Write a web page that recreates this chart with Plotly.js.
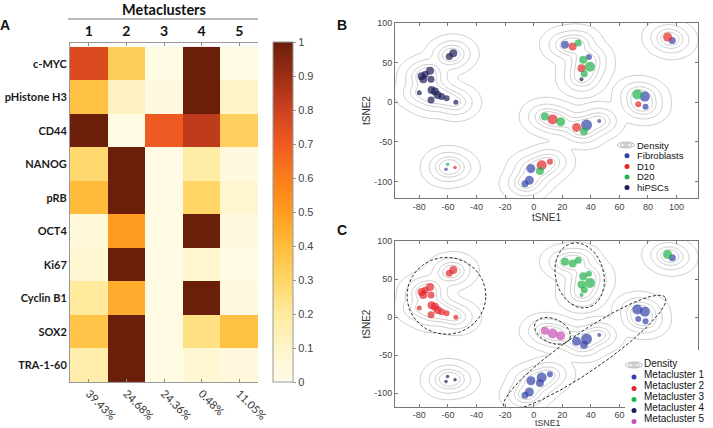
<!DOCTYPE html>
<html><head><meta charset="utf-8">
<script src="https://cdn.plot.ly/plotly-3.0.1.min.js"></script>
<style>html,body{margin:0;padding:0;background:#fff}#chart{width:713px;height:428px}</style>
</head><body><div id="chart"></div>
<script>
// ---------- Panel A data ----------
const markers = ['c-MYC','pHistone H3','CD44','NANOG','pRB','OCT4','Ki67','Cyclin B1','SOX2','TRA-1-60'];
const metaclusters = ['1','2','3','4','5'];
const clusterShares = ['39.43%','24.68%','24.36%','0.48%','11.05%'];
const expression = [
  [0.76, 0.33, 0.02, 1.00, 0.02],
  [0.38, 0.12, 0.03, 1.00, 0.10],
  [1.00, 0.02, 0.70, 0.83, 0.32],
  [0.28, 1.00, 0.02, 0.18, 0.03],
  [0.40, 1.00, 0.02, 0.30, 0.08],
  [0.05, 0.50, 0.02, 1.00, 0.03],
  [0.07, 1.00, 0.02, 0.08, 0.02],
  [0.20, 0.45, 0.02, 1.00, 0.03],
  [0.37, 1.00, 0.02, 0.25, 0.38],
  [0.17, 1.00, 0.02, 0.07, 0.04]
];
const colorbarTicks = [0,0.1,0.2,0.3,0.4,0.5,0.6,0.7,0.8,0.9,1];
const colorbarLabels = ['0','0.1','0.2','0.3','0.4','0.5','0.6','0.7','0.8','0.9','1'];

// ---------- Panels B/C data (tSNE) ----------
const tsne1 = [-59.0,-56.2,-72.5,-75.8,-78.4,-77.2,-71.8,-80.0,-71.4,-69.0,-67.2,-64.4,-60.9,-71.8,-54.4,
  21.9,27.3,31.2,38.7,34.7,33.5,39.4,35.4,33.5,
  93.7,97.0,
  72.5,77.8,73.2,78.3,
  7.9,13.3,18.9,30.0,37.0,35.2,45.9,
  -1.9,5.6,11.4,4.4,-3.0,-6.1,
  -60.2,-61.3,-55.0];
const tsne2 = [57.8,62.0,39.7,35.5,33.0,29.0,29.0,12.0,15.6,13.5,9.3,7.2,5.0,3.0,0.0,
  72.6,70.5,74.7,57.0,53.6,43.0,45.0,35.9,29.0,
  82.3,78.0,
  10.0,7.2,-2.5,-5.5,
  -18.0,-21.5,-24.5,-31.6,-28.7,-36.3,-23.6,
  -83.5,-79.3,-75.0,-86.5,-98.3,-102.5,
  -78.0,-84.4,-82.3];
const pointSize = [7,8,8,7,8,8,7,5,8,8,8,7,6,7,5,
  8,8,7,6,8,8,10,7,4,
  9,7,
  10,10,6,6,
  8,10,9,9,11,8,4,
  9,10,6,8,9,7,
  3.5,3.5,3.5];
const sampleType = ['hiPSCs','hiPSCs','hiPSCs','hiPSCs','hiPSCs','hiPSCs','hiPSCs','hiPSCs','hiPSCs','hiPSCs','hiPSCs','hiPSCs','hiPSCs','hiPSCs','hiPSCs',
  'Fibroblasts','D10','D20','Fibroblasts','D20','D10','D20','D20','hiPSCs',
  'D10','Fibroblasts',
  'D20','Fibroblasts','D10','Fibroblasts',
  'D20','D10','D20','D10','Fibroblasts','D20','Fibroblasts',
  'Fibroblasts','D10','D10','D20','Fibroblasts','Fibroblasts',
  'D20','Fibroblasts','D10'];
const metaclusterId = [2,2,2,2,2,2,2,2,2,2,2,2,2,2,2,
  3,3,3,3,3,3,3,3,3,
  3,1,
  1,1,1,1,
  5,5,5,1,1,1,1,
  1,1,1,1,1,1,
  4,4,4];
const sampleNames = ['Fibroblasts','D10','D20','hiPSCs'];
const mcNames = ['Metacluster 1','Metacluster 2','Metacluster 3','Metacluster 4','Metacluster 5'];
const xTickVals = [-80,-60,-40,-20,0,20,40,60,80,100];
const xTickTextB = ['-80','-60','-40','-20','0','20','40','60','80','100'];
const xTickTextC = ['-80','-60','-40','-20','0','20','40','60','',''];   // 80/100 hidden under legend in C
const yTickVals = [-100,-50,0,50,100];
const yTickText = ['-100','-50','0','50','100'];

// ---------- styles ----------
const sampleColors = {'Fibroblasts':'#3443A6','D10':'#E3262B','D20':'#22B24A','hiPSCs':'#1C1E57'};
const mcColors = ['#3443A6','#E3262B','#22B24A','#1C1E57','#C84FB4'];
const W = 713, H = 428;
const PX = p => p / W, PY = p => 1 - p / H;

// density (kernel estimate from the tSNE points)
const hx = 5.6, hy = 7.5;
const nPts = tsne1.length;
const wts = [];
for (let i = 0; i < nPts; i++) {
  let s = 0;
  for (let j = 0; j < nPts; j++) {
    const dx = (tsne1[i]-tsne1[j])/hx, dy = (tsne2[i]-tsne2[j])/hy;
    s += Math.exp(-0.5*(dx*dx+dy*dy));
  }
  wts.push(1/s);
}
const gx = [], gy = [];
for (let x = -100; x <= 118; x += 1) gx.push(x);
for (let y = -125; y <= 104; y += 1) gy.push(y);
const gz = gy.map(y => gx.map(x => {
  let d = 0;
  for (let i = 0; i < nPts; i++) {
    const dx = (x-tsne1[i])/hx, dy = (y-tsne2[i])/hy;
    d += wts[i]*Math.exp(-0.5*(dx*dx+dy*dy));
  }
  d = Math.max(d, 1e-300);
  const r2 = Math.max(-2*Math.log(d), 1e-6);
  return 0.5*Math.log(r2);
}));

function densityTrace(xa, ya) {
  return {type:'contour', x:gx, y:gy, z:gz, xaxis:xa, yaxis:ya,
    autocontour:false, contours:{coloring:'none', start:0, end:1.22, size:0.405},
    line:{color:'#BEBEBE', width:0.8, smoothing:1}, showscale:false, hoverinfo:'skip', showlegend:false};
}

const traces = [];
// Heatmap
traces.push({type:'heatmap', x:[1,2,3,4,5], y:markers, z:expression, zmin:0, zmax:1, xaxis:'x', yaxis:'y',
  colorscale:[[0,'#FFFBEA'],[0.1,'#FFF4C8'],[0.2,'#FFEA9E'],[0.3,'#FFD565'],[0.4,'#FFBC3C'],[0.5,'#FF9C1F'],
              [0.6,'#FA7D1B'],[0.7,'#EE5A22'],[0.8,'#CC421F'],[0.9,'#9C2D15'],[1,'#6B1F0B']],
  colorbar:{x:PX(273), xanchor:'left', y:PY(212), yanchor:'middle', len:340/H, lenmode:'fraction',
    thickness:20, thicknessmode:'pixels', outlinecolor:'#999', outlinewidth:1, xpad:0, ypad:0,
    ticks:'outside', ticklen:3, tickcolor:'#999', tickvals:colorbarTicks, ticktext:colorbarLabels,
    tickfont:{family:'Liberation Sans, Arial', size:11, color:'#444'}},
  hoverinfo:'skip'});
traces.push({type:'scatter', x:[1,5], y:[markers[0],markers[0]], xaxis:'x2', yaxis:'y', mode:'markers',
  marker:{opacity:0}, hoverinfo:'skip', showlegend:false});

// Panel B
traces.push(densityTrace('x3','y3'));
sampleNames.forEach(g => {
  const idx = sampleType.map((s,i)=>s===g?i:-1).filter(i=>i>=0);
  traces.push({type:'scatter', mode:'markers', xaxis:'x3', yaxis:'y3', name:g, showlegend:false,
    x:idx.map(i=>tsne1[i]), y:idx.map(i=>tsne2[i]),
    marker:{size:idx.map(i=>pointSize[i]), color:sampleColors[g], line:{width:0}}});
});
// Panel C
traces.push(densityTrace('x4','y4'));
const ellipses = [
  {c:[-61,28], u:[27.6,0], v:[0,50.5]},
  {c:[32.2,54.8], u:[-6,42], v:[16.3,8.2]},
  {c:[13.2,-18], u:[12.1,-10.6], v:[3.6,14.3]},
  {c:[35.7,-46.4], u:[56.3,72.4], v:[-7.6,20.6]}
];
ellipses.forEach(e => {
  const ex = [], ey = [];
  for (let k = 0; k <= 200; k++) {
    const t = 2*Math.PI*k/200;
    ex.push(e.c[0] + e.u[0]*Math.cos(t) + e.v[0]*Math.sin(t));
    ey.push(e.c[1] + e.u[1]*Math.cos(t) + e.v[1]*Math.sin(t));
  }
  traces.push({type:'scatter', mode:'lines', x:ex, y:ey, xaxis:'x4', yaxis:'y4', showlegend:false, hoverinfo:'skip',
    line:{color:'#2a2a2a', width:1, dash:'3px,2px'}});
});
[1,2,3,4,5].forEach(m => {
  const idx = metaclusterId.map((s,i)=>s===m?i:-1).filter(i=>i>=0);
  traces.push({type:'scatter', mode:'markers', xaxis:'x4', yaxis:'y4', name:mcNames[m-1], showlegend:false,
    x:idx.map(i=>tsne1[i]), y:idx.map(i=>tsne2[i]),
    marker:{size:idx.map(i=>pointSize[i]), color:mcColors[m-1], line:{width:0}}});
});

const tsneFont = {family:'Liberation Sans, Arial', size:9, color:'#444'};
const tsneTitleFont = {family:'Liberation Sans, Arial', size:10, color:'#333'};
function tsneX(anchor, ticktext, title, labelStandoff) {
  return {domain:[PX(395),PX(698)], anchor:anchor, range:[-97,115], tickvals:xTickVals, ticktext:ticktext,
    ticks:'inside', ticklen:3, tickcolor:'#777', showline:true, linecolor:'#777', linewidth:1, mirror:'ticks',
    showgrid:false, zeroline:false, tickfont:tsneFont, fixedrange:true, ticklabelstandoff:labelStandoff,
    title:{text:title, font:tsneTitleFont, standoff:1}};
}
function tsneY(domain, anchor, range) {
  return {domain:domain, anchor:anchor, range:range, tickvals:yTickVals, ticktext:yTickText,
    ticks:'inside', ticklen:3, tickcolor:'#777', showline:true, linecolor:'#777', linewidth:1, mirror:'ticks',
    showgrid:false, zeroline:false, tickfont:tsneFont, fixedrange:true,
    title:{text:'tSNE2', font:tsneTitleFont, standoff:1}};
}

const annotations = [
  {text:'<b>Metaclusters</b>', x:PX(164), y:PY(9), xref:'paper', yref:'paper', xanchor:'center', yanchor:'middle', showarrow:false,
   font:{family:'Lato', size:14.5, color:'#111'}},
  {text:'<b>A</b>', x:PX(5), y:PY(25), xref:'paper', yref:'paper', xanchor:'center', yanchor:'middle', showarrow:false, font:{family:'Liberation Sans, Arial', size:14, color:'#111'}},
  {text:'<b>B</b>', x:PX(342), y:PY(25), xref:'paper', yref:'paper', xanchor:'center', yanchor:'middle', showarrow:false, font:{family:'Liberation Sans, Arial', size:14, color:'#111'}},
  {text:'<b>C</b>', x:PX(342), y:PY(230), xref:'paper', yref:'paper', xanchor:'center', yanchor:'middle', showarrow:false, font:{family:'Liberation Sans, Arial', size:14, color:'#111'}},
  // x-axis title of panel C (placed tightly under its tick labels, as in the reference)
  {text:'tSNE1', x:PX(548), y:PY(423.4), xref:'paper', yref:'paper', xanchor:'center', yanchor:'middle', showarrow:false, borderpad:0,
   font:{family:'Liberation Sans, Arial', size:8.8, color:'#333'}}
];
const shapes = [
  {type:'line', xref:'paper', yref:'paper', x0:PX(68), x1:PX(258), y0:PY(19), y1:PY(19), line:{color:'#777', width:1}},
  // white cover behind legend of panel C
  {type:'rect', xref:'paper', yref:'paper', x0:PX(625), x1:1, y0:0, y1:PY(350), fillcolor:'#fff', line:{width:0}, layer:'above'}
];
function densityIcon(cx, cy) {
  [[17,6],[11,4],[5,2]].forEach(([w,h]) => shapes.push({type:'circle', xref:'paper', yref:'paper',
    x0:PX(cx-w/2), x1:PX(cx+w/2), y0:PY(cy+h/2), y1:PY(cy-h/2), line:{color:'#AAA', width:0.8}, layer:'above'}));
}
function dot(cx, cy, col) {
  shapes.push({type:'circle', xref:'paper', yref:'paper', x0:PX(cx-2.5), x1:PX(cx+2.5), y0:PY(cy+2.5), y1:PY(cy-2.5),
    fillcolor:col, line:{width:0}, layer:'above'});
}
function legText(t, x, y, size) {
  annotations.push({text:t, x:PX(x), y:PY(y), xref:'paper', yref:'paper', xanchor:'left', yanchor:'middle',
    showarrow:false, borderpad:0, font:{family:'Liberation Sans, Arial', size:size, color:'#111'}});
}
// legend B
densityIcon(626, 145);
const legBy = [145.2, 155.8, 166.4, 177.0, 187.6];
['Density'].concat(sampleNames).forEach((t,i) => legText(t, 636, legBy[i], 9.5));
sampleNames.forEach((g,i) => dot(627, legBy[i+1], sampleColors[g]));
// legend C
densityIcon(634, 365);
const legCy = [363.4, 374.5, 385.6, 396.7, 407.8, 418.9];
['Density'].concat(mcNames).forEach((t,i) => legText(t, 643, legCy[i], 10));
const legCdot = [377, 388.5, 399.5, 410.5, 421.5];
mcNames.forEach((m,i) => dot(634, legCdot[i], mcColors[i]));

const layout = {
  width:W, height:H, margin:{l:0,r:0,t:0,b:0}, paper_bgcolor:'#fff', plot_bgcolor:'rgba(0,0,0,0)', showlegend:false,
  xaxis:{domain:[PX(70),PX(258)], anchor:'y', range:[0.5,5.5], tickvals:[1,2,3,4,5], ticktext:clusterShares, tickangle:45,
    ticks:'inside', ticklen:3, tickcolor:'#888', showline:true, linecolor:'#999', linewidth:1, mirror:true,
    showgrid:false, zeroline:false, tickfont:{family:'Lato', size:11, color:'#333'}, fixedrange:true},
  xaxis2:{overlaying:'x', matches:'x', side:'top', anchor:'y', tickvals:[1,2,3,4,5], ticktext:metaclusters.map(m=>'<b>'+m+'</b>'),
    ticks:'inside', ticklen:3, tickcolor:'#888', showline:false, showgrid:false, zeroline:false, ticklabelstandoff:3,
    tickfont:{family:'Lato', size:14, color:'#111'}, fixedrange:true},
  yaxis:{domain:[PY(382),PY(43)], anchor:'x', autorange:'reversed', ticks:'', showline:true, linecolor:'#999', linewidth:1,
    showgrid:false, zeroline:false, tickvals:markers, ticktext:markers.map(m=>'<b>'+m+'</b>'),
    tickfont:{family:'Lato', size:11, color:'#1a1a1a'}, fixedrange:true},
  xaxis3:tsneX('y3', xTickTextB, 'tSNE1', 0),
  yaxis3:tsneY([PY(198),PY(23)],'x3',[-120.6,100]),
  xaxis4:tsneX('y4', xTickTextC, '', -1),
  yaxis4:tsneY([PY(407),PY(241)],'x4',[-118,100]),
  annotations:annotations, shapes:shapes
};
Plotly.newPlot('chart', traces, layout, {displayModeBar:false, staticPlot:true});
</script></body></html>
